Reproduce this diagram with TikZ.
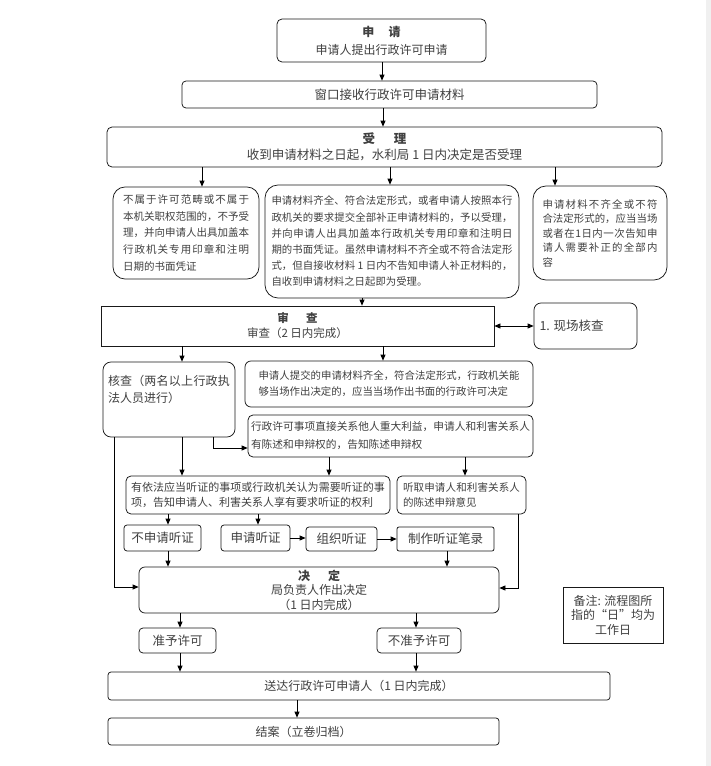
\documentclass[tikz,border=0pt]{standalone}
\usepackage{fontspec}
\setmainfont{Noto Sans CJK SC}
\usetikzlibrary{arrows.meta}
\XeTeXlinebreaklocale "zh"
\XeTeXlinebreakskip=0pt plus 1.5pt
\newcommand\fs[2]{\fontsize{#1}{#2}\selectfont}
\newcommand\mybox[7]{\node[bx,minimum width={(#4-#2)*1pt},minimum height={(#5-#3)*1pt},#6] (#1) at ({(#2+#4)/2},{(#3+#5)/2}) {#7};}
\begin{document}
\begin{tikzpicture}[x=1pt,y=-1pt,
  bx/.style={draw=black!90, line width=0.75pt, inner sep=0pt, text=black!75, align=center},
  arr/.style={draw=black, line width=0.75pt, -{Triangle[length=6pt,width=5pt]}},
  darr/.style={draw=black, line width=0.75pt, {Triangle[length=6pt,width=5pt]}-{Triangle[length=6pt,width=5pt]}}]
\useasboundingbox (0,0) rectangle (711,766);
\fill[white] (0,0) rectangle (711,766);
\fill[black!6] (706,0) rectangle (711,766);

\mybox{sq}{277}{19}{486}{62}{rounded corners=5pt,font=\fs{12}{18}}{\textbf{申\hspace{1.2em}请}\\申请人提出行政许可申请}
\mybox{wk}{182}{81}{597}{108}{rounded corners=4pt,font=\fs{12.5}{15}}{窗口接收行政许可申请材料}
\mybox{sl}{107}{127}{662}{167}{rounded corners=5pt,font=\fs{12.5}{16}}{\textbf{受\hspace{1.5em}理}\\收到申请材料之日起，水利局 1 日内决定是否受理}
\mybox{bA}{113}{187}{259}{279}{rounded corners=12pt,font=\fs{10.5}{16.7}}{\parbox{126pt}{不属于许可范畴或不属于\linebreak 本机关职权范围的，不予受\linebreak 理，并向申请人出具加盖本\linebreak 行政机关专用印章和注明\linebreak 日期的书面凭证}}
\mybox{bB}{265}{185}{519}{298}{rounded corners=13pt,font=\fs{10.4}{16.2}}{\parbox{241pt}{申请材料齐全、符合法定形式，或者申请人按照本行\linebreak 政机关的要求提交全部补正申请材料的，予以受理，\linebreak 并向申请人出具加盖本行政机关专用印章和注明日\linebreak 期的书面凭证。虽然申请材料不齐全或不符合法定形\linebreak 式，但自接收材料 1 日内不告知申请人补正材料的，\linebreak 自收到申请材料之日起即为受理。}}
\mybox{bC}{533}{186}{667}{280}{rounded corners=13pt,font=\fs{10.4}{14.5}}{\parbox{115pt}{申请材料不齐全或不符\linebreak 合法定形式的，应当当场\linebreak 或者在1日内一次告知申\linebreak 请人需要补正的全部内\linebreak 容}}
\mybox{sc}{101}{306}{494}{346}{font=\fs{11.5}{15}}{\textbf{审\hspace{1.5em}查}\\审查（2 日内完成）}
\mybox{xc}{534}{303}{637}{349}{rounded corners=7pt,font=\fs{12.5}{15}}{\parbox{92pt}{1. 现场核查}}
\mybox{hc}{103}{362}{235}{437}{rounded corners=8pt,font=\fs{12}{17}}{\parbox[c][49pt][t]{122pt}{核查（两名以上行政执\linebreak 法人员进行）}}
\mybox{tj}{245}{361}{533}{407}{rounded corners=6pt,font=\fs{10.4}{16}}{\parbox{261pt}{申请人提交的申请材料齐全，符合法定形式，行政机关能\linebreak 够当场作出决定的，应当当场作出书面的行政许可决定}}
\mybox{xz}{248}{415}{533}{457}{rounded corners=5pt,font=\fs{10.7}{18}}{\parbox{279pt}{行政许可事项直接关系他人重大利益，申请人和利害关系人\linebreak 有陈述和申辩权的，告知陈述申辩权}}
\mybox{yf}{126}{476}{390}{514}{rounded corners=5pt,font=\fs{11}{15}}{\parbox{254pt}{有依法应当听证的事项或行政机关认为需要听证的事\linebreak 项，告知申请人、利害关系人享有要求听证的权利}}
\mybox{tq}{397}{476}{526}{514}{rounded corners=5pt,font=\fs{10.5}{15}}{\parbox{117pt}{听取申请人和利害关系人\linebreak 的陈述申辩意见}}
\mybox{bsq}{124}{525}{201}{551}{rounded corners=3pt,font=\fs{12.5}{15}}{不申请听证}
\mybox{ssq}{221}{525}{290}{551}{rounded corners=3pt,font=\fs{12.5}{15}}{申请听证}
\mybox{zz}{306}{527}{377}{551}{rounded corners=3pt,font=\fs{12.5}{15}}{组织听证}
\mybox{zb}{397}{527}{494}{551}{rounded corners=2pt,font=\fs{12.5}{15}}{制作听证笔录}
\mybox{jd}{139}{567}{499}{613}{rounded corners=6pt,font=\fs{12}{14.5}}{\textbf{决\hspace{1.5em}定}\\局负责人作出决定\\（1 日内完成）}
\mybox{bz}{563}{587}{663}{643}{font=\fs{12}{14.5}}{备注: 流程图所\\指的“日”均为\\工作日}
\mybox{zy}{139}{628}{216}{653}{rounded corners=4pt,font=\fs{12.5}{15}}{准予许可}
\mybox{bzy}{377}{628}{461}{653}{rounded corners=4pt,font=\fs{12.5}{15}}{不准予许可}
\mybox{sd}{108}{672}{610}{700}{rounded corners=3pt,font=\fs{12}{15}}{送达行政许可申请人（1 日内完成）}
\mybox{ja}{108}{718}{499}{745}{rounded corners=3pt,font=\fs{12}{15}}{结案（立卷归档）}

\foreach \g in {114,168,180,182,202,213,258,297,329,362,382,383,390,416,447,465,518,555}{\coordinate (g\g) at (\g,0);}
\foreach \h in {448,587,588}{\coordinate (h\h) at (0,\h);}

\draw[arr] (g382 |- sq.south) -- (g382 |- wk.north);
\draw[arr] (g383 |- wk.south) -- (g383 |- sl.north);
\draw[arr] (g202 |- sl.south) -- (g202 |- bA.north);
\draw[arr] (g390 |- sl.south) -- (g390 |- bB.north);
\draw[arr] (g555 |- sl.south) -- (g555 |- bC.north);
\draw[arr] (g362 |- bB.south) -- (g362 |- sc.north);
\draw[darr] (sc.east |- xc.west) -- (xc.west);
\draw[arr] (g182 |- sc.south) -- (g182 |- hc.north);
\draw[arr] (g383 |- sc.south) -- (g383 |- tj.north);
\draw[arr] (g213 |- hc.south) |- (h448 -| xz.west);
\draw[arr] (g182 |- hc.south) -- (g182 |- yf.north);
\draw[arr] (g114 |- hc.south) |- (h587 -| jd.west);
\draw[arr] (g329 |- xz.south) -- (g329 |- yf.north);
\draw[arr] (g465 |- xz.south) -- (g465 |- tq.north);
\draw[arr] (g168 |- yf.south) -- (g168 |- bsq.north);
\draw[arr] (g258 |- yf.south) -- (g258 |- ssq.north);
\draw[arr] (ssq.east) -- (ssq.east -| zz.west);
\draw[arr] (zz.east) -- (zz.east -| zb.west);
\draw[arr] (g168 |- bsq.south) -- (g168 |- jd.north);
\draw[arr] (g447 |- zb.south) -- (g447 |- jd.north);
\draw[arr] (g518 |- tq.south) |- (h588 -| jd.east);
\draw[arr] (g180 |- jd.south) -- (g180 |- zy.north);
\draw[arr] (g416 |- jd.south) -- (g416 |- bzy.north);
\draw[arr] (g180 |- zy.south) -- (g180 |- sd.north);
\draw[arr] (g416 |- bzy.south) -- (g416 |- sd.north);
\draw[arr] (g297 |- sd.south) -- (g297 |- ja.north);
\end{tikzpicture}
\end{document}
